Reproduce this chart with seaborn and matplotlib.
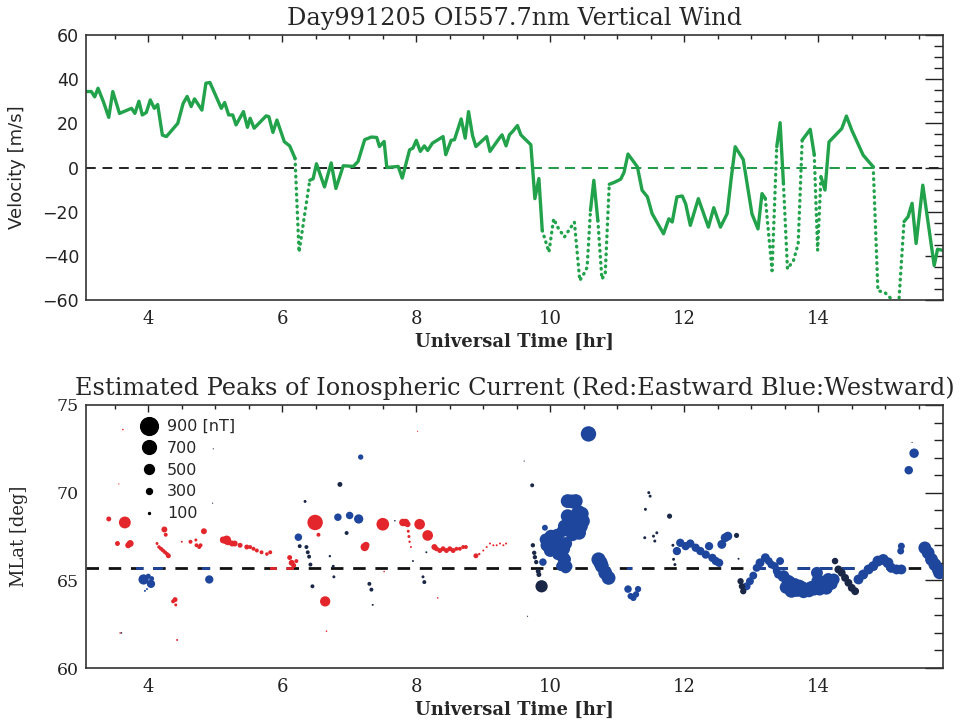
import matplotlib
matplotlib.use("Agg")
import matplotlib.pyplot as plt
import seaborn as sns
import pandas as pd
from matplotlib.lines import Line2D
from matplotlib.patches import Rectangle
from matplotlib.ticker import MultipleLocator


############################################################################
# DATA - vertical wind (top panel)
############################################################################

wind_time = [3.07, 3.15, 3.20, 3.25, 3.33, 3.41, 3.47, 3.57, 3.75, 3.80, 3.86, 3.91, 3.97,
	4.03, 4.09, 4.14, 4.21, 4.27, 4.44, 4.52, 4.58, 4.64, 4.69, 4.80, 4.86, 4.92,
	5.09, 5.14, 5.20, 5.26, 5.31, 5.42, 5.48, 5.52, 5.58, 5.76, 5.80, 5.86, 5.92,
	6.03, 6.11, 6.19, 6.25, 6.41, 6.46, 6.51, 6.63, 6.73, 6.80, 6.91,
	7.06, 7.13, 7.23, 7.33, 7.41, 7.45, 7.52, 7.56, 7.73, 7.79, 7.90, 7.95,
	8.00, 8.06, 8.12, 8.17, 8.24, 8.40, 8.44, 8.52, 8.57, 8.67, 8.73, 8.78, 8.84, 8.89,
	9.05, 9.10, 9.24, 9.28, 9.34, 9.39, 9.44, 9.51, 9.56, 9.71, 9.77, 9.83, 9.88, 9.98,
	10.05, 10.11, 10.21, 10.36, 10.44, 10.50, 10.55, 10.60, 10.65, 10.71, 10.77, 10.82, 10.88, 10.95,
	11.05, 11.10, 11.16, 11.30, 11.37, 11.45, 11.52, 11.69, 11.77, 11.82, 11.89, 11.97,
	12.02, 12.09, 12.21, 12.36, 12.44, 12.54, 12.64, 12.70, 12.76, 12.88,
	13.01, 13.10, 13.16, 13.21, 13.31, 13.38, 13.43, 13.48, 13.54, 13.63, 13.70, 13.76, 13.88, 13.94, 13.99,
	14.04, 14.10, 14.16, 14.35, 14.42, 14.50, 14.67, 14.82, 14.89, 14.99,
	15.09, 15.20, 15.28, 15.34, 15.40, 15.46, 15.56, 15.73, 15.78, 15.86]

wind_vel = [34.4, 34.4, 32.0, 35.9, 29.8, 22.7, 34.4, 24.5, 26.8, 24.5, 30.0, 23.8, 24.9,
	30.6, 26.8, 28.5, 14.7, 14.0, 20.0, 29.0, 32.2, 27.6, 31.1, 26.0, 38.2, 38.5,
	26.8, 29.4, 23.8, 23.8, 19.3, 25.3, 18.2, 22.3, 17.8, 23.4, 23.0, 15.9, 21.5,
	11.7, 9.8, 4.2, -38.3, -5.8, -5.1, 1.7, -8.8, 2.1, -9.5, 0.8,
	0.5, 2.7, 12.6, 13.8, 13.6, 9.5, 11.8, 0.0, 0.5, -4.8, 8.0, 8.8,
	12.3, 7.3, 9.8, 7.7, 11.0, 14.0, 5.8, 12.3, 12.6, 22.0, 13.3, 25.3, 14.4, 9.5,
	14.0, 7.3, 13.3, 14.8, 9.8, 14.8, 16.4, 19.0, 14.8, 10.3, -14.1, -5.0, -28.5, -38.3,
	-23.2, -27.0, -31.5, -24.7, -51.2, -48.2, -45.2, -19.4, -5.8, -24.0, -50.5, -48.2, -7.6, -6.8,
	-5.3, -2.3, 6.1, 0.3, -10.3, -13.3, -20.9, -30.0, -23.2, -24.7, -13.3, -12.9,
	-16.4, -26.2, -14.1, -27.0, -18.2, -27.0, -20.9, -5.0, 9.4, 3.6,
	-21.0, -27.8, -11.8, -14.1, -46.7, 9.4, 20.3, -7.2, -45.9, -42.1, -34.5, 12.4, 17.3, 5.8, -37.5,
	-4.1, -10.2, 11.6, 17.6, 23.3, 16.9, 5.6, 0.3, -55.8, -56.5,
	-59.5, -62.0, -24.5, -22.3, -16.2, -34.4, -8.0, -44.4, -37.0, -37.5]

# 1 = solid (good), 0 = dotted (bad)
wind_good = [1]*42 + [0] + [1]*46 + [0]*8 + [1]*3 + [0]*2 + [1]*28 + [0] + [1]*3 + [0]*3 + [1]*3 + [0] \
	+ [1]*8 + [0]*4 + [1]*8

############################################################################
# DATA - ionospheric current peaks (bottom panel)
############################################################################

# eastward (red)
east_time = [3.41, 3.65, 3.54, 3.70, 3.73, 3.58, 3.62, 3.56,
	4.13, 4.16, 4.19, 4.22, 4.25, 4.28, 4.30, 4.24, 4.26, 4.37, 4.40, 4.41, 4.43, 4.50,
	4.63, 4.71, 4.72, 4.76, 4.78, 4.83,
	5.10, 5.12, 5.17, 5.19, 5.25, 5.29, 5.37, 5.47, 5.52, 5.57, 5.62, 5.69, 5.77, 5.82,
	6.11, 6.14, 6.17, 6.21, 6.49, 6.54, 6.64, 6.66,
	7.23, 7.25, 7.50, 7.52, 7.80, 7.84, 7.87, 7.88, 7.89, 7.90, 7.92,
	8.02, 8.05, 8.17, 8.27, 8.32, 8.30, 8.35, 8.40, 8.45, 8.50, 8.55, 8.60, 8.65, 8.70, 8.74,
	8.89, 8.94, 9.00, 9.05, 9.10, 9.15, 9.20, 9.25, 9.30, 9.34]
east_mlat = [68.5, 68.3, 67.1, 67.0, 67.1, 62.0, 73.6, 70.5,
	67.1, 66.9, 66.8, 66.7, 66.6, 66.5, 66.4, 67.9, 67.6, 63.8, 63.9, 63.6, 61.6, 67.2,
	67.2, 67.3, 67.0, 66.9, 67.0, 67.8,
	67.4, 67.3, 67.3, 67.2, 67.1, 67.1, 67.0, 66.9, 66.9, 66.8, 66.7, 66.6, 66.5, 66.6,
	66.3, 66.0, 65.85, 66.1, 68.3, 67.6, 63.8, 62.1,
	66.9, 67.0, 68.2, 65.5, 68.3, 68.3, 68.2, 67.8, 67.5, 67.2, 66.9,
	73.5, 68.2, 67.56, 66.9, 64.0, 66.8, 66.7, 66.8, 66.7, 66.8, 66.7, 66.8, 66.8, 66.9, 66.9,
	66.4, 66.5, 66.7, 66.9, 67.1, 67.0, 67.0, 67.1, 67.0, 67.1]
east_amp = [250, 600, 250, 300, 350, 80, 80, 60,
	150, 180, 200, 200, 200, 200, 250, 300, 200, 200, 250, 150, 100, 100,
	200, 150, 200, 200, 200, 300,
	150, 350, 450, 350, 300, 300, 250, 250, 200, 200, 200, 200, 180, 200,
	250, 300, 250, 200, 780, 200, 520, 80,
	420, 350, 640, 80, 380, 380, 300, 150, 150, 120, 100,
	60, 540, 540, 300, 80, 250, 250, 250, 250, 250, 250, 200, 200, 200, 200,
	250, 120, 100, 100, 100, 100, 100, 100, 100, 100]

# westward (blue)
west_time = [3.93, 4.04, 4.00, 4.05, 3.95, 3.98, 4.91, 6.24, 6.83, 7.005, 7.14, 7.17,
	9.89, 9.92, 9.93, 9.98, 10.01, 10.05, 10.08, 10.03, 10.11, 10.16, 10.23, 10.18, 10.21,
	10.23, 10.16, 10.18, 10.21, 10.26, 10.28, 10.26, 10.38, 10.45, 10.48, 10.45, 10.43, 10.38,
	10.33, 10.57,
	9.95, 10.00, 10.06, 10.12, 10.14, 10.20, 10.22, 10.20, 10.25, 10.30, 10.33, 10.40, 10.42,
	10.47, 10.32, 10.10, 10.05,
	10.72, 10.75, 10.77, 10.82, 10.87,
	11.16, 11.20, 11.24, 11.28, 11.31,
	11.89, 11.94, 12.02, 12.09, 12.17, 12.24, 12.32, 12.37, 12.42, 12.47, 12.52, 12.56, 12.61, 12.65,
	12.93, 12.98, 13.03, 13.08, 13.13, 13.21, 13.26, 13.30, 13.35, 13.38, 13.40, 13.43,
	13.48, 13.55, 13.65, 13.75, 13.83, 13.90, 13.98, 14.00, 14.05, 14.10, 14.15, 14.23,
	13.52, 13.60, 13.68, 13.78, 13.86, 13.94, 14.02, 14.12, 14.20, 13.58, 13.72,
	14.60, 14.67, 14.75, 14.82, 14.89, 14.97, 15.04, 15.09, 15.17, 15.24, 15.24, 15.23,
	15.35, 15.43, 15.59, 15.64, 15.69, 15.74, 15.79, 15.81]
west_mlat = [65.05, 64.8, 65.24, 65.1, 64.4, 64.5, 65.05, 67.46, 68.6, 68.7, 68.5, 72.03,
	66.04, 68.0, 67.33, 67.14, 67.52, 67.25, 66.95, 66.76, 66.47, 66.95, 67.1, 66.38, 66.0,
	65.71, 65.81, 67.8, 68.09, 68.66, 68.28, 69.52, 69.52, 68.66, 68.38, 68.09, 67.71, 67.9,
	67.6, 73.35,
	67.0, 66.7, 66.9, 67.2, 66.6, 66.8, 66.2, 65.95, 65.8, 68.0, 68.5, 68.4, 68.9,
	68.8, 69.5, 67.6, 67.5,
	66.19, 66.0, 65.81, 65.43, 65.14,
	64.5, 64.1, 64.0, 64.2, 64.5,
	66.67, 67.14, 66.95, 67.1, 66.86, 66.67, 66.47, 66.95, 66.28, 66.1, 66.0, 67.05, 67.43, 67.52,
	64.66, 64.95, 65.27, 65.71, 66.0, 66.29, 66.1, 65.9, 65.81, 65.52, 65.33, 66.1,
	65.24, 64.95, 64.76, 64.57, 64.47, 64.57, 65.43, 64.95, 64.66, 64.66, 65.05, 65.05,
	64.6, 64.4, 64.45, 64.35, 64.4, 64.5, 64.5, 64.55, 64.8, 64.9, 64.7,
	65.05, 65.33, 65.62, 65.81, 66.1, 66.19, 66.0, 65.71, 65.62, 65.62, 66.95, 66.67,
	71.28, 72.25, 66.85, 66.57, 66.19, 65.9, 65.62, 65.43]
west_amp = [520, 420, 250, 250, 100, 100, 420, 380, 380, 380, 470, 270,
	380, 300, 600, 700, 650, 700, 700, 600, 550, 650, 650, 650, 600,
	550, 500, 600, 650, 700, 700, 700, 700, 750, 750, 750, 700, 650,
	650, 780,
	650, 650, 700, 700, 650, 650, 600, 600, 550, 650, 700, 750, 700,
	700, 700, 600, 650,
	720, 720, 700, 700, 700,
	380, 320, 320, 320, 320,
	420, 420, 420, 420, 420, 420, 420, 420, 420, 420, 420, 450, 450, 450,
	400, 400, 400, 400, 450, 450, 400, 400, 400, 400, 400, 400,
	600, 650, 650, 700, 700, 700, 600, 700, 700, 700, 650, 600,
	650, 700, 700, 650, 650, 650, 650, 650, 600, 600, 600,
	500, 500, 500, 500, 550, 550, 550, 500, 500, 500, 350, 350,
	430, 480, 650, 650, 650, 650, 650, 650]

# westward, small and dark
dark_time = [3.60, 4.97, 4.96, 6.26, 6.36, 6.38, 6.40, 6.42, 6.34, 6.45, 6.71, 6.76, 6.77,
	6.86, 6.96, 7.30, 7.33, 7.35, 7.68, 7.95, 8.10, 8.12, 8.15, 9.61, 9.66,
	9.73, 9.74, 9.76, 9.77, 9.79, 9.82, 9.83, 9.87,
	11.41, 11.42, 11.47, 11.49, 11.54, 11.56, 11.59, 11.78, 11.83, 11.84, 11.86,
	12.78, 12.81, 12.84, 12.86, 12.88, 14.25, 14.30, 14.35, 14.40, 14.45, 14.50, 14.55, 15.40]
dark_mlat = [62.0, 72.5, 69.4, 66.95, 66.9, 66.6, 66.35, 65.9, 69.5, 64.66, 66.38, 65.8, 65.2,
	70.47, 67.7, 64.8, 64.47, 63.6, 68.4, 66.1, 65.2, 64.9, 66.6, 71.8, 62.95,
	70.42, 67.0, 66.57, 66.32, 66.04, 65.52, 65.33, 64.66,
	67.43, 69.05, 70.0, 69.8, 67.52, 67.24, 67.71, 68.66, 67.0, 66.2, 65.9,
	67.56, 66.23, 64.95, 64.66, 64.38, 66.1, 65.62, 65.43, 65.14, 64.86, 64.57, 64.38, 72.86]
dark_amp = [80, 60, 60, 200, 200, 200, 200, 200, 150, 200, 120, 150, 150,
	250, 200, 200, 200, 100, 80, 100, 150, 200, 100, 60, 60,
	200, 220, 220, 220, 220, 250, 250, 620,
	150, 150, 150, 150, 150, 150, 150, 260, 150, 150, 150,
	260, 100, 320, 320, 320, 330, 400, 400, 400, 400, 400, 400, 60]

# colored stretches drawn on the reference latitude line
ref_mlat = 65.7
ref_segments = [(3.82, 4.22, "W"), (4.80, 4.96, "W"), (5.82, 6.18, "E"),
	(10.10, 10.33, "W"), (11.15, 11.28, "W"), (12.92, 15.30, "W")]

legend_amps = [900, 700, 500, 300, 100]
legend_labels = ["900 [nT]", "700", "500", "300", "100"]

############################################################################

GREEN = "#22a24b"
DIR_COLORS = {"E": "#e3262b", "W": "#1e469c", "D": "#1a2747"}
D900_PT = 12.8  # marker diameter (pt) of a 900 nT peak

def style_axis(ax):
	ax.tick_params(axis="both", which="both", direction="in", top=True, right=True, colors="#222222")
	ax.tick_params(axis="x", which="major", length=5, width=1, pad=7)
	ax.tick_params(axis="x", which="minor", length=3, width=1)
	ax.tick_params(axis="y", which="major", length=13, width=1, pad=5)
	ax.tick_params(axis="y", which="minor", length=6.5, width=1)
	for sp in ax.spines.values():
		sp.set_linewidth(1.2)
		sp.set_color("#333333")
	ax.xaxis.set_major_locator(MultipleLocator(2))
	ax.xaxis.set_minor_locator(MultipleLocator(0.5))

def build_segments(t, v, good):
	rows = []
	seg = 0
	prev_kind = None
	for i in range(len(t) - 1):
		kind = "good" if (good[i] and good[i+1]) else "bad"
		if kind != prev_kind:
			seg += 1
			prev_kind = kind
			rows.append((seg, kind, t[i], v[i]))
		rows.append((seg, kind, t[i+1], v[i+1]))
	return pd.DataFrame(rows, columns=["seg", "kind", "t", "v"])

def draw_wind(ax):
	seg_df = build_segments(wind_time, wind_vel, wind_good)
	# zero line: dark overall, green in the middle stretch
	ax.axhline(0, color="#222222", lw=1.4, dashes=(5, 3.5), zorder=1)
	green = ax.axhline(0, color=GREEN, lw=1.4, dashes=(5, 3.5), zorder=1.5)
	green.set_clip_path(Rectangle((9.55, -70), 14.85 - 9.55, 140, transform=ax.transData))
	sns.lineplot(data=seg_df, x="t", y="v", units="seg", estimator=None, style="kind",
		dashes={"good": "", "bad": (0.2, 1.6)}, color=GREEN, lw=2.4, sort=False,
		legend=False, ax=ax, dash_capstyle="round", solid_capstyle="round")
	ax.set_xlim(3.07, 15.86)
	ax.set_ylim(-60, 60)
	ax.yaxis.set_major_locator(MultipleLocator(20))
	ax.yaxis.set_minor_locator(MultipleLocator(5))
	style_axis(ax)
	for lab in ax.get_yticklabels():
		lab.set_family("DejaVu Sans")
	ax.set_title("Day991205 OI557.7nm Vertical Wind", fontsize=17.3, pad=7)
	ax.set_xlabel("Universal Time [hr]", fontsize=13, fontweight="bold")
	ax.set_ylabel("Velocity [m/s]", fontsize=13, family="DejaVu Sans")
	ax.xaxis.set_label_coords(0.5, -0.125)
	ax.yaxis.set_label_coords(-0.07, 0.5)

def draw_currents(ax):
	cur_df = pd.DataFrame({
		"t": east_time + west_time + dark_time,
		"mlat": east_mlat + west_mlat + dark_mlat,
		"amp": east_amp + west_amp + dark_amp,
		"dir": ["E"]*len(east_time) + ["W"]*len(west_time) + ["D"]*len(dark_time)})
	cur_df["area"] = cur_df["amp"] ** 2
	ax.axhline(ref_mlat, color="#111111", lw=2.0, dashes=(4.5, 3.5), zorder=1)
	for t0, t1, d in ref_segments:
		ln = ax.axhline(ref_mlat, color=DIR_COLORS[d], lw=2.0, dashes=(4.5, 3.5), zorder=1.5)
		ln.set_clip_path(Rectangle((t0, 59), t1 - t0, 17, transform=ax.transData))
	sns.scatterplot(data=cur_df, x="t", y="mlat", hue="dir", palette=DIR_COLORS,
		size="area", sizes=(0, D900_PT ** 2), size_norm=(0, 900 ** 2),
		linewidth=0, legend=False, ax=ax, zorder=3)
	ax.set_xlim(3.07, 15.86)
	ax.set_ylim(60, 75)
	ax.yaxis.set_major_locator(MultipleLocator(5))
	ax.yaxis.set_minor_locator(MultipleLocator(1))
	style_axis(ax)
	ax.set_title("Estimated Peaks of Ionospheric Current (Red:Eastward Blue:Westward)", fontsize=17.3, pad=7)
	ax.set_xlabel("Universal Time [hr]", fontsize=13, fontweight="bold")
	ax.set_ylabel("MLat [deg]", fontsize=13)
	ax.xaxis.set_label_coords(0.5, -0.125)
	ax.yaxis.set_label_coords(-0.068, 0.5)

	handles = [Line2D([], [], marker="o", linestyle="", color="black",
		markersize=D900_PT * a / 900) for a in legend_amps]
	ax.legend(handles, legend_labels, loc="upper left", bbox_to_anchor=(0.057, 0.97),
		frameon=False, handlelength=1.0, handletextpad=0.6, labelspacing=0.42,
		borderaxespad=0, prop={"family": "DejaVu Sans", "size": 11.5})

def main():
	sns.set_theme(style="white")
	plt.rcParams["font.family"] = ["DejaVu Serif", "DejaVu Sans"]
	plt.rcParams["xtick.labelsize"] = 13
	plt.rcParams["ytick.labelsize"] = 12.5

	fig = plt.figure(figsize=(9.65, 7.25), dpi=100)
	ax1 = fig.add_axes([0.0891, 0.5862, 0.888, 0.3655])
	ax2 = fig.add_axes([0.0891, 0.0786, 0.888, 0.3628])

	draw_wind(ax1)
	draw_currents(ax2)

	fig.savefig("out.png", dpi=100, facecolor="white")


if __name__ == "__main__":
	main()
